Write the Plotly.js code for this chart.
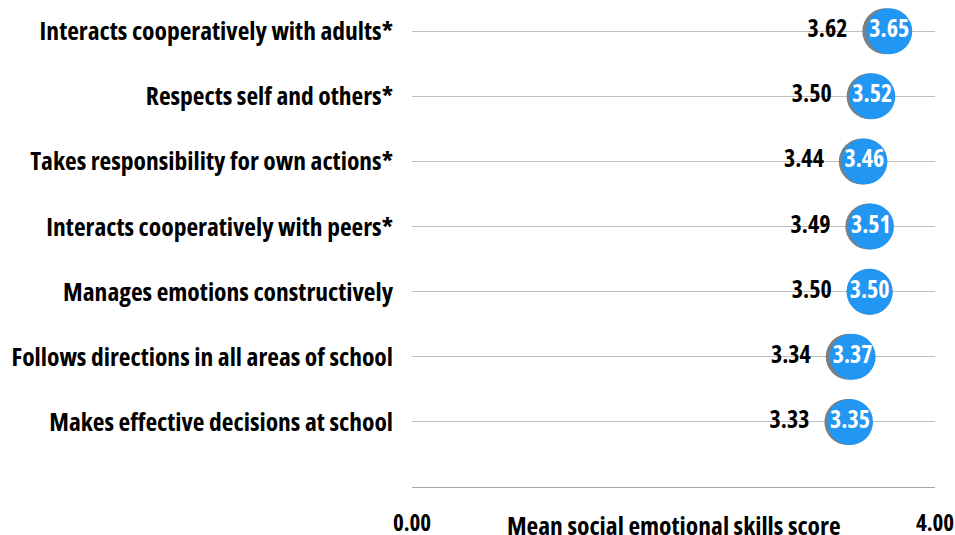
<!DOCTYPE html>
<html><head><meta charset="utf-8">
<script src="https://cdn.plot.ly/plotly-3.0.1.min.js"></script>
<style>html,body{margin:0;padding:0;background:#fff}#chart{width:955px;height:535px}
#chart svg text{font-stretch:75% !important;}</style>
</head><body><div id="chart"></div>
<script>
const categories = ["Interacts cooperatively with adults*", "Respects self and others*", "Takes responsibility for own actions*", "Interacts cooperatively with peers*", "Manages emotions constructively", "Follows directions in all areas of school", "Makes effective decisions at school"];
const greyValues = [3.62, 3.50, 3.44, 3.49, 3.50, 3.34, 3.33];
const blueValues = [3.65, 3.52, 3.46, 3.51, 3.50, 3.37, 3.35];
const xTickVals = [0, 4];
const xTickText = ["0.00", "4.00"];
const xTitle = "Mean social emotional skills score";

const FONT = "'Open Sans', 'DejaVu Sans', sans-serif";
const pos = categories.map((c, i) => i);

const traces = [
  {type: 'scatter', mode: 'markers', x: greyValues, y: pos,
   marker: {size: 46, color: '#7f7f7f'}, hoverinfo: 'skip', cliponaxis: false},
  {type: 'scatter', mode: 'markers+text', x: greyValues, y: pos,
   marker: {size: 59, color: 'rgba(0,0,0,0)'},
   text: greyValues.map(v => v.toFixed(2)), textposition: 'middle left',
   textfont: {family: FONT, size: 24, color: '#000', weight: 'bold'},
   hoverinfo: 'skip', cliponaxis: false},
  {type: 'scatter', mode: 'markers+text', x: blueValues, y: pos,
   marker: {size: 46, color: '#2196F3'},
   text: blueValues.map(v => v.toFixed(2)), textposition: 'middle center',
   textfont: {family: FONT, size: 24, color: '#fff', weight: 'bold'},
   hoverinfo: 'skip', cliponaxis: false}
];

const layout = {
  width: 955, height: 535,
  margin: {l: 412, r: 20, t: 0, b: 48},
  showlegend: false,
  paper_bgcolor: '#fff', plot_bgcolor: '#fff',
  font: {family: FONT, color: '#000'},
  xaxis: {range: [0, 4], tickvals: xTickVals, ticktext: xTickText, showgrid: false, zeroline: false,
          showline: true, linecolor: '#a6a6a6', linewidth: 1, ticks: '', ticklabelstandoff: 15,
          ticklabeloverflow: 'allow',
          tickfont: {family: FONT, size: 23, color: '#000', weight: 'bold'}},
  yaxis: {range: [7, -0.48], tickvals: pos, ticktext: categories, showgrid: true, gridcolor: '#bfbfbf',
          gridwidth: 1, zeroline: false, showline: false, ticks: '', ticklabelstandoff: 18,
          tickfont: {family: FONT, size: 25.5, color: '#000', weight: 'bold'}},
  annotations: [{text: xTitle, xref: 'paper', yref: 'paper', x: 0.5, y: 0, yshift: -38,
                 xanchor: 'center', yanchor: 'middle', showarrow: false,
                 font: {family: FONT, size: 25.5, color: '#000', weight: 'bold'}}]
};
Plotly.newPlot('chart', traces, layout, {displayModeBar: false, staticPlot: true});
</script></body></html>
